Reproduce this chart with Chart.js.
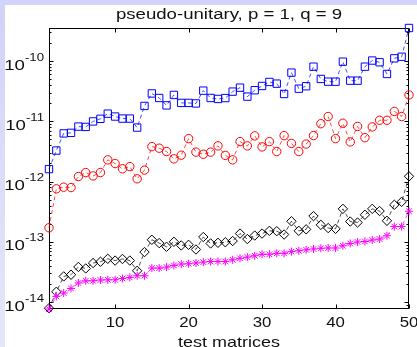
<!DOCTYPE html>
<html>
<head>
<meta charset="utf-8">
<script src="https://cdn.jsdelivr.net/npm/chart.js@4.4.1/dist/chart.umd.min.js"></script>
<style>
  html, body { margin: 0; padding: 0; }
  body { width: 417px; height: 347px; overflow: hidden; background: linear-gradient(to bottom, #d2d2fa, #e6e6fa); position: relative; }
  #wrap { position: absolute; left: 5px; top: 5px; width: 412px; height: 342px; background: #ffffff; }
  canvas { display: block; }
</style>
</head>
<body>
<div id="wrap"><canvas id="c" width="412" height="342"></canvas></div>
<script>
// ---- data ----
const chartTitle = 'pseudo-unitary, p = 1, q = 9';
const xAxisLabel = 'test matrices';
const matrices = [1,2,3,4,5,6,7,8,9,10,11,12,13,14,15,16,17,18,19,20,21,22,23,24,25,26,27,28,29,30,31,32,33,34,35,36,37,38,39,40,41,42,43,44,45,46,47,48,49,50];
const xTickValues = [10, 20, 30, 40, 50];
const yTickValues = [1e-14, 1e-13, 1e-12, 1e-11, 1e-10];
const yTickExponents = ['-14', '-13', '-12', '-11', '-10'];
const yLimits = [7.66e-15, 3.54e-10];

const squareSeries = [1.61e-12,3.27e-12,6.30e-12,6.43e-12,8.17e-12,8.07e-12,9.95e-12,1.10e-11,1.34e-11,1.20e-11,
  1.11e-11,1.11e-11,7.87e-12,1.80e-11,2.90e-11,2.44e-11,1.84e-11,2.74e-11,2.02e-11,2.02e-11,
  1.98e-11,3.23e-11,2.44e-11,2.35e-11,2.43e-11,3.11e-11,3.62e-11,2.57e-11,3.28e-11,3.86e-11,
  4.50e-11,4.22e-11,2.84e-11,6.43e-11,3.48e-11,3.82e-11,8.07e-11,5.05e-11,4.55e-11,4.55e-11,
  9.77e-11,4.73e-11,4.73e-11,8.07e-11,1.02e-10,9.55e-11,6.11e-11,1.11e-10,1.18e-10,3.54e-10];

const circleSeries = [1.71e-13,7.57e-13,8.07e-13,7.94e-13,1.21e-12,1.41e-12,1.24e-12,1.41e-12,2.29e-12,1.99e-12,
  1.63e-12,1.77e-12,1.11e-12,1.55e-12,3.80e-12,3.58e-12,3.15e-12,2.38e-12,2.74e-12,5.16e-12,
  3.08e-12,2.84e-12,3.08e-12,3.91e-12,2.72e-12,2.29e-12,4.60e-12,3.91e-12,5.73e-12,3.76e-12,
  4.60e-12,3.15e-12,5.79e-12,4.30e-12,3.15e-12,4.19e-12,5.79e-12,9.12e-12,1.20e-11,5.16e-12,
  9.29e-12,4.55e-12,8.22e-12,5.35e-12,8.07e-12,1.04e-11,1.04e-11,1.46e-11,1.20e-11,2.74e-11];

const diamondSeries = [7.89e-15,1.48e-14,2.66e-14,2.84e-14,3.82e-14,3.61e-14,4.44e-14,4.66e-14,5.22e-14,4.88e-14,
  5.19e-14,4.88e-14,3.30e-14,6.75e-14,1.08e-13,9.51e-14,8.26e-14,1.00e-13,8.69e-14,8.91e-14,
  7.45e-14,1.20e-13,9.38e-14,9.62e-14,9.82e-14,1.03e-13,1.37e-13,1.11e-13,1.27e-13,1.37e-13,
  1.52e-13,1.50e-13,1.32e-13,2.19e-13,1.52e-13,1.61e-13,2.67e-13,1.91e-13,1.69e-13,1.64e-13,
  3.52e-13,2.17e-13,2.09e-13,2.81e-13,3.52e-13,3.24e-13,2.23e-13,4.11e-13,4.60e-13,1.22e-12];

const asteriskSeries = [7.66e-15,1.24e-14,1.41e-14,1.68e-14,2.07e-14,2.25e-14,2.25e-14,2.32e-14,2.34e-14,2.34e-14,
  2.46e-14,2.56e-14,2.73e-14,2.73e-14,3.66e-14,3.66e-14,3.80e-14,4.05e-14,4.27e-14,4.32e-14,
  4.44e-14,4.60e-14,4.71e-14,4.71e-14,4.71e-14,5.02e-14,5.32e-14,5.57e-14,5.86e-14,6.21e-14,
  6.21e-14,6.44e-14,6.44e-14,6.87e-14,7.10e-14,7.36e-14,7.60e-14,7.80e-14,7.89e-14,7.89e-14,
  8.59e-14,9.38e-14,9.93e-14,1.01e-13,1.07e-13,1.11e-13,1.26e-13,1.79e-13,1.79e-13,3.21e-13];

// ---- helpers ----
const FONT = '"Liberation Sans", Arial, Helvetica, sans-serif';
const STRETCH = 1.2;
const TEXT_COLOR = '#111111';

function drawText(ctx, str, x, y, size, align) {
  ctx.save();
  ctx.font = size + 'px ' + FONT;
  ctx.fillStyle = TEXT_COLOR;
  ctx.textBaseline = 'alphabetic';
  ctx.textAlign = align;
  ctx.translate(x, y);
  ctx.scale(STRETCH, 1);
  ctx.fillText(str, 0, 0);
  ctx.restore();
}
function textWidth(ctx, str, size) {
  ctx.save();
  ctx.font = size + 'px ' + FONT;
  const w = ctx.measureText(str).width * STRETCH;
  ctx.restore();
  return w;
}

const axesPlugin = {
  id: 'matlabAxes',
  beforeDatasetsDraw(chart) {
    const { ctx, chartArea: a, scales: { x, y } } = chart;
    const L = Math.round(a.left) + 0.5, R = Math.round(a.right) - 0.5;
    const T = Math.round(a.top) + 0.5, B = Math.round(a.bottom) - 0.5;
    ctx.save();
    ctx.strokeStyle = '#000000';
    ctx.lineWidth = 1;
    ctx.beginPath();
    xTickValues.forEach(v => {
      const px = Math.round(x.getPixelForValue(v)) + 0.5;
      ctx.moveTo(px, B); ctx.lineTo(px, B - 4);
      ctx.moveTo(px, T); ctx.lineTo(px, T + 4);
    });
    for (let e = -15; e <= -10; e++) {
      for (let m = 1; m <= 9; m++) {
        const v = m * Math.pow(10, e);
        if (v < yLimits[0] || v > yLimits[1]) continue;
        const py = Math.round(y.getPixelForValue(v)) + 0.5;
        const len = m === 1 ? 4 : 2;
        ctx.moveTo(L, py); ctx.lineTo(L + len, py);
        ctx.moveTo(R, py); ctx.lineTo(R - len, py);
      }
    }
    ctx.stroke();
    ctx.strokeRect(L, T, R - L, B - T);
    ctx.restore();
  },
  afterDraw(chart) {
    const { ctx, chartArea: a, scales: { x, y } } = chart;
    drawText(ctx, chartTitle, (a.left + a.right) / 2, 13.5, 15.5, 'center');
    xTickValues.forEach(v => {
      drawText(ctx, String(v), x.getPixelForValue(v), a.bottom + 17.5, 14, 'center');
    });
    drawText(ctx, xAxisLabel, (a.left + a.right) / 2, 341.5, 15, 'center');
    const rightEdge = a.left - 5;
    yTickValues.forEach((v, i) => {
      const py = y.getPixelForValue(v);
      const exp = yTickExponents[i];
      const we = textWidth(ctx, exp, 11);
      const wb = textWidth(ctx, '10', 15.5);
      drawText(ctx, '10', rightEdge - we - wb, py + 8.5, 15.5, 'left');
      drawText(ctx, exp, rightEdge - we, py - 0.5, 11, 'left');
    });
  }
};

function makeSet(values, color, style, radius, order) {
  return {
    data: matrices.map((m, i) => ({ x: m, y: values[i] })),
    borderColor: color,
    borderWidth: 0.7,
    borderDash: [4, 3],
    pointStyle: style,
    pointRadius: radius,
    pointHoverRadius: radius,
    pointBorderColor: color,
    pointBackgroundColor: 'rgba(0,0,0,0)',
    pointBorderWidth: 1,
    fill: false,
    tension: 0,
    clip: false,
    order: order
  };
}

new Chart(document.getElementById('c'), {
  type: 'line',
  data: {
    datasets: [
      makeSet(squareSeries, '#0000ff', 'rect', 5.2, 4),
      makeSet(circleSeries, '#ff0000', 'circle', 4.2, 3),
      makeSet(diamondSeries, '#000000', 'rectRot', 4.7, 2),
      makeSet(asteriskSeries, '#ff00ff', 'star', 4, 1)
    ]
  },
  options: {
    responsive: false,
    animation: false,
    devicePixelRatio: 1,
    layout: { padding: { top: 23, right: 8, bottom: 0, left: 0 } },
    plugins: { legend: { display: false }, tooltip: { enabled: false }, title: { display: false } },
    events: [],
    scales: {
      x: {
        type: 'linear', position: 'bottom', min: 1, max: 50,
        grid: { display: false, drawTicks: false },
        border: { display: false },
        ticks: { display: false },
        afterBuildTicks(s) { s.ticks = xTickValues.map(v => ({ value: v })); },
        afterFit(s) { s.height = 38; }
      },
      y: {
        type: 'logarithmic', position: 'left', min: yLimits[0], max: yLimits[1],
        grid: { display: false, drawTicks: false },
        border: { display: false },
        ticks: { display: false },
        afterBuildTicks(s) { s.ticks = yTickValues.map(v => ({ value: v })); },
        afterFit(s) { s.width = 44; }
      }
    }
  },
  plugins: [axesPlugin]
});
</script>
</body>
</html>
